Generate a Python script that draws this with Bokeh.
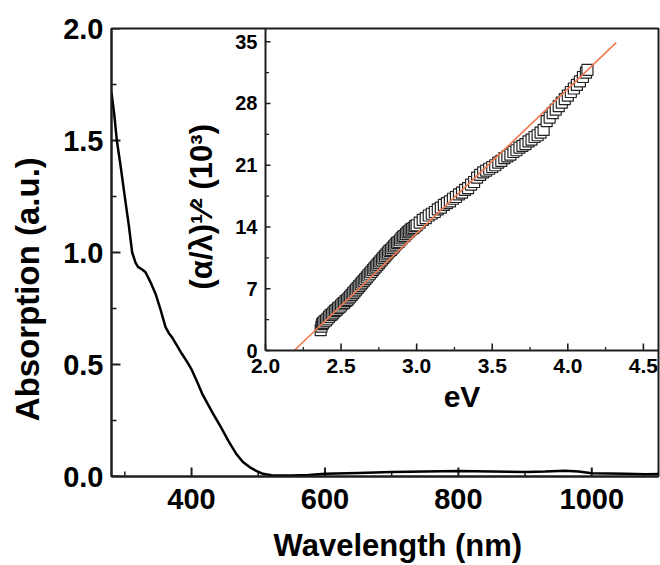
from bokeh.plotting import figure
from bokeh.models import Range1d, LinearAxis, FixedTicker, CustomJSTickFormatter
from bokeh.embed import file_html
from bokeh.resources import INLINE

# ---- main spectrum ----
wavelength = [280, 284, 288, 293, 300, 306, 311, 316, 320, 323, 327, 331, 338, 346,
              354, 361, 366, 371, 378, 385, 392, 400, 408, 416, 424, 432, 444, 455,
              467, 477, 487, 497, 507, 520, 535, 550, 575, 600, 650, 700, 750, 800,
              850, 900, 930, 960, 980, 1000, 1050, 1080, 1100]
absorption = [1.714, 1.62, 1.50, 1.40, 1.247, 1.12, 1.00, 0.955, 0.935, 0.93, 0.922, 0.912,
              0.87, 0.816, 0.74, 0.667, 0.64, 0.62, 0.585, 0.55, 0.518, 0.478, 0.425,
              0.369, 0.325, 0.282, 0.22, 0.16, 0.101, 0.065, 0.042, 0.025, 0.012, 0.006,
              0.004, 0.004, 0.007, 0.012, 0.016, 0.020, 0.022, 0.024, 0.022, 0.020, 0.022,
              0.026, 0.022, 0.015, 0.012, 0.010, 0.011]

# ---- inset: (alpha/lambda)^1/2 vs photon energy ----
inset_ev = [2.365, 2.37, 2.375, 2.38, 2.39, 2.40, 2.41, 2.42, 2.43, 2.44, 2.45, 2.46, 2.47,
            2.48, 2.49, 2.50, 2.51, 2.52, 2.53, 2.54, 2.55, 2.56, 2.57, 2.58, 2.59, 2.60,
            2.61, 2.62, 2.63, 2.64, 2.65, 2.66, 2.67, 2.68, 2.69, 2.70, 2.71, 2.72, 2.73,
            2.74, 2.75, 2.76, 2.77, 2.78, 2.79, 2.80, 2.81, 2.82, 2.83, 2.84, 2.85, 2.86,
            2.87, 2.88, 2.89, 2.90, 2.91, 2.92, 2.93, 2.94, 2.95, 2.96, 2.97, 2.98, 2.99,
            3.00, 3.02, 3.04, 3.06, 3.08, 3.10, 3.12, 3.14, 3.16, 3.18, 3.20, 3.22, 3.24,
            3.26, 3.28, 3.30, 3.32, 3.34, 3.36, 3.38, 3.40, 3.42, 3.44, 3.46, 3.48, 3.50,
            3.52, 3.54, 3.56, 3.58, 3.60, 3.62, 3.64, 3.66, 3.68, 3.70, 3.72, 3.74, 3.76,
            3.78, 3.80, 3.82, 3.84, 3.86, 3.88, 3.90, 3.92, 3.94, 3.96, 3.98, 4.00, 4.02,
            4.04, 4.06, 4.08, 4.10, 4.12, 4.13]
inset_val = [2.3, 2.7, 3.0, 3.1, 3.3, 3.4, 3.6, 3.8, 4.0, 4.1, 4.3, 4.5, 4.6,
             4.8, 4.9, 5.1, 5.3, 5.4, 5.6, 5.7, 5.9, 6.1, 6.3, 6.5, 6.7, 6.9,
             7.1, 7.3, 7.5, 7.7, 7.9, 8.1, 8.3, 8.5, 8.7, 8.9, 9.1, 9.3, 9.5,
             9.7, 9.9, 10.1, 10.3, 10.5, 10.7, 10.9, 11.1, 11.3, 11.4, 11.6, 11.8, 12.0,
             12.2, 12.3, 12.5, 12.7, 12.9, 13.0, 13.2, 13.4, 13.5, 13.7, 13.8, 13.9, 14.1,
             14.2, 14.5, 14.8, 15.0, 15.3, 15.5, 15.7, 16.0, 16.2, 16.5, 16.7, 16.9, 17.2,
             17.4, 17.7, 17.9, 18.2, 18.4, 18.8, 19.1, 19.6, 19.9, 20.2, 20.4, 20.6, 20.8,
             21.0, 21.3, 21.5, 21.8, 22.0, 22.2, 22.5, 22.7, 23.0, 23.2, 23.4, 23.7, 23.9,
             24.2, 24.4, 24.7, 25.0, 26.0, 26.4, 26.9, 27.3, 27.7, 28.1, 28.5, 28.9, 29.3,
             29.7, 30.1, 30.5, 31.0, 31.5, 31.8]
fit_ev = [2.19, 4.32]
fit_val = [0.0, 34.9]

# ---- ticks ----
main_x_ticks = [400, 600, 800, 1000]
main_x_minor = [300, 500, 700, 900, 1100]
main_y_ticks = [0.0, 0.5, 1.0, 1.5, 2.0]
main_y_minor = [0.25, 0.75, 1.25, 1.75]
inset_x_ticks = [2.0, 2.5, 3.0, 3.5, 4.0, 4.5]
inset_x_minor = [2.25, 2.75, 3.25, 3.75, 4.25]
inset_y_ticks = [0, 7, 14, 21, 28, 35]
inset_y_minor = [3.5, 10.5, 17.5, 24.5, 31.5]

X_MAIN = (280, 1100)
Y_MAIN = (0.0, 2.0)
X_INSET = (2.0, 4.6)
Y_INSET = (0.0, 36.5)

# frame placement in pixels
W, H = 660, 565
FL, FR, FT, FB = 111, 658, 28, 476
# inset lower-left corner (pixels)
IL, IB = 265, 350

FONT = "Liberation Sans"
AX_COLOR = "#1e1e1e"
NB = "\u00a0"

p = figure(width=W, height=H, output_backend="svg", toolbar_location=None,
           x_range=Range1d(*X_MAIN), y_range=Range1d(*Y_MAIN),
           min_border_left=FL, min_border_right=W - FR, min_border_top=FT,
           min_border_bottom=H - FB,
           background_fill_color="white", border_fill_color="white")
p.grid.visible = False
p.outline_line_color = AX_COLOR
p.outline_line_width = 2

fw, fh = FR - FL, FB - FT
fl = (IL - FL) / fw
fb = (FB - IB) / fh
ix0 = X_INSET[1] - (X_INSET[1] - X_INSET[0]) / (1 - fl)
iy0 = Y_INSET[1] - (Y_INSET[1] - Y_INSET[0]) / (1 - fb)
p.extra_x_ranges = {"ix": Range1d(ix0, X_INSET[1])}
p.extra_y_ranges = {"iy": Range1d(iy0, Y_INSET[1])}

# pixel -> data-length helpers (for tick mark lengths)
dx_main = (X_MAIN[1] - X_MAIN[0]) / fw
dy_main = (Y_MAIN[1] - Y_MAIN[0]) / fh
dx_in = (X_INSET[1] - ix0) / fw
dy_in = (Y_INSET[1] - iy0) / fh


def style_axis(ax, tick_size, standoff):
    ax.axis_line_color = AX_COLOR
    ax.axis_line_width = 2
    ax.major_tick_in = 0
    ax.major_tick_out = 0
    ax.minor_tick_in = 0
    ax.minor_tick_out = 0
    ax.major_label_text_font = FONT
    ax.major_label_text_font_style = "bold"
    ax.major_label_text_font_size = tick_size
    ax.major_label_text_color = "black"
    ax.major_label_standoff = standoff
    ax.axis_label_text_font = FONT
    ax.axis_label_text_font_style = "bold"
    ax.axis_label_text_color = "black"


xa = p.xaxis[0]
xa.ticker = FixedTicker(ticks=main_x_ticks, minor_ticks=main_x_minor)
style_axis(xa, "29px", 12)
xa.axis_label = NB * 3 + "Wavelength (nm)"
xa.axis_label_text_font_size = "31px"
xa.axis_label_standoff = 16

ya = p.yaxis[0]
ya.ticker = FixedTicker(ticks=main_y_ticks, minor_ticks=main_y_minor)
ya.formatter = CustomJSTickFormatter(code="return tick.toFixed(1);")
style_axis(ya, "29px", 8)
ya.axis_label = "Absorption (a.u.)" + NB * 8
ya.axis_label_text_font_size = "33px"
ya.axis_label_standoff = 14

# inset axes placed inside the frame
iya = LinearAxis(x_range_name="ix", y_range_name="iy", fixed_location=X_INSET[0],
                 bounds=Y_INSET,
                 ticker=FixedTicker(ticks=inset_y_ticks, minor_ticks=inset_y_minor),
                 axis_label="(α/λ)¹⁄² (10³)" + NB * 4)
style_axis(iya, "20px", 8)
iya.axis_label_text_font_size = "31px"
iya.axis_label_standoff = 13
p.add_layout(iya, "left")

ixa = LinearAxis(x_range_name="ix", y_range_name="iy", fixed_location=Y_INSET[0],
                 bounds=X_INSET,
                 ticker=FixedTicker(ticks=inset_x_ticks, minor_ticks=inset_x_minor),
                 axis_label="eV")
ixa.formatter = CustomJSTickFormatter(code="return tick.toFixed(1);")
style_axis(ixa, "21px", 8)
ixa.axis_label_text_font_size = "30px"
ixa.axis_label_standoff = 4
p.add_layout(ixa, "below")

# inward tick marks (drawn at the tick values through the plot's scales)
TK = dict(line_color=AX_COLOR)
p.segment(x0=main_x_ticks, y0=[Y_MAIN[0]] * 4, x1=main_x_ticks,
          y1=[Y_MAIN[0] + 9 * dy_main] * 4, line_width=2, **TK)
p.segment(x0=main_x_minor, y0=[Y_MAIN[0]] * 5, x1=main_x_minor,
          y1=[Y_MAIN[0] + 5 * dy_main] * 5, line_width=1.5, **TK)
p.segment(x0=[X_MAIN[0]] * 5, y0=main_y_ticks, x1=[X_MAIN[0] + 9 * dx_main] * 5,
          y1=main_y_ticks, line_width=2, **TK)
p.segment(x0=[X_MAIN[0]] * 4, y0=main_y_minor, x1=[X_MAIN[0] + 5 * dx_main] * 4,
          y1=main_y_minor, line_width=1.5, **TK)

IN = dict(x_range_name="ix", y_range_name="iy", **TK)
p.segment(x0=inset_x_ticks, y0=[Y_INSET[0]] * 6, x1=inset_x_ticks,
          y1=[Y_INSET[0] + 7 * dy_in] * 6, line_width=1.6, **IN)
p.segment(x0=inset_x_minor, y0=[Y_INSET[0]] * 5, x1=inset_x_minor,
          y1=[Y_INSET[0] + 3.5 * dy_in] * 5, line_width=1.3, **IN)
p.segment(x0=[X_INSET[0]] * 6, y0=inset_y_ticks, x1=[X_INSET[0] + 5 * dx_in] * 6,
          y1=inset_y_ticks, line_width=1.6, **IN)
p.segment(x0=[X_INSET[0]] * 5, y0=inset_y_minor, x1=[X_INSET[0] + 3.5 * dx_in] * 5,
          y1=inset_y_minor, line_width=1.3, **IN)

# main curve
p.line(wavelength, absorption, line_color="black", line_width=2.5)

# inset data + linear fit
p.scatter(inset_ev, inset_val, marker="square", size=11, fill_color="white",
          line_color="#222222", line_width=1.2, x_range_name="ix", y_range_name="iy")
p.line(fit_ev, fit_val, line_color="#ef7a52", line_width=1.6,
       x_range_name="ix", y_range_name="iy")

open("out.html", "w").write(file_html(p, INLINE))
